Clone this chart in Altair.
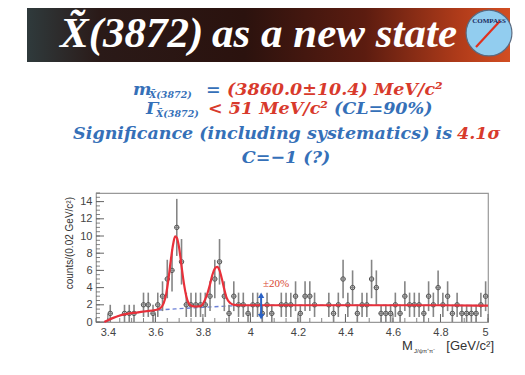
import altair as alt
import pandas as pd

# ---------------- data ----------------
bin_start = 3.37
bin_width = 0.02
counts = [0, 0, 1, 0, 0, 1, 1, 1, 0, 2,
          2, 1, 2, 3, 5, 6, 11, 7, 2, 2,
          2, 2, 2, 3, 5, 7, 3, 1, 3, 2,
          2, 1, 2, 2, 1, 2, 1, 0, 2, 2,
          2, 3, 1, 3, 3, 2, 0, 0, 2, 1,
          2, 5, 2, 4, 1, 2, 2, 5, 4, 1,
          1, 1, 2, 1, 3, 2, 2, 2, 1, 3,
          2, 4, 2, 3, 1, 2, 1, 1, 1, 1,
          2, 3]

fit_x = [3.385, 3.40, 3.42, 3.45, 3.48, 3.52, 3.56, 3.60, 3.62, 3.635, 3.645, 3.655,
         3.665, 3.675, 3.683, 3.69, 3.70, 3.71, 3.72, 3.73, 3.74, 3.755, 3.77, 3.79,
         3.80, 3.815, 3.83, 3.84, 3.85, 3.86, 3.87, 3.88, 3.89, 3.90, 3.915, 3.93,
         3.96, 4.0, 4.2, 4.4, 4.6, 4.8, 5.0]
fit_y = [0.0, 0.2, 0.45, 0.75, 0.95, 1.1, 1.25, 1.4, 1.6, 2.2, 3.2, 5.0,
         7.2, 9.1, 9.95, 9.8, 8.6, 6.5, 4.5, 3.0, 2.2, 1.85, 1.8, 1.85,
         2.1, 3.0, 4.4, 5.5, 6.2, 6.4, 6.0, 5.0, 3.8, 2.8, 2.2, 2.0,
         1.95, 1.95, 1.95, 1.95, 1.95, 1.95, 1.9]

bg_x = [3.385, 3.42, 3.45, 3.50, 3.55, 3.60, 3.70, 3.80, 3.90, 4.00, 4.20, 4.60, 5.00]
bg_y = [0.0, 0.45, 0.75, 1.0, 1.2, 1.35, 1.55, 1.7, 1.85, 1.92, 1.95, 1.95, 1.9]

arrow_x = [4.045, 4.045]
arrow_y = [0.6, 3.1]

x_major = [3.4, 3.6, 3.8, 4.0, 4.2, 4.4, 4.6, 4.8, 5.0]
x_minor = [round(3.35 + 0.05 * i, 2) for i in range(34)]
y_major = [0, 2, 4, 6, 8, 10, 12, 14]
y_minor = [0.5 * i for i in range(31)]

centers = [round(bin_start + bin_width * i, 2) for i in range(len(counts))]
hist = pd.DataFrame({"m": centers, "c": counts})
hist = hist[hist.c > 0]
fit = pd.DataFrame({"m": fit_x, "v": fit_y})
bg = pd.DataFrame({"m": bg_x, "v": bg_y})
arrow = pd.DataFrame({"m": arrow_x, "v": arrow_y, "s": ["triangle-down", "triangle-up"]})
one = pd.DataFrame({"k": [0]})

W, H = 392, 129
xs = alt.Scale(domain=[3.35, 5.0], nice=False, zero=False)
ys = alt.Scale(domain=[0, 15], nice=False)

BLUE = "#3570b8"
RED = "#d83a2c"
SERIF = "DejaVu Serif"
TSERIF = "Liberation Serif"
SANS = "Liberation Sans"
FS = 17.5

x_axis = alt.Axis(values=x_major, format="~g", title=None, grid=False,
                  domain=False, ticks=False, labelFont=SANS,
                  labelFontSize=11, labelColor="#444", labelPadding=4,
                  labelOverlap=False)
y_axis = alt.Axis(values=y_major, title=None, grid=False, domain=False,
                  ticks=False, labelFont=SANS, labelFontSize=11,
                  labelColor="#444", labelPadding=4, labelOverlap=False)


def X(f):
    return alt.X(f"{f}:Q", scale=xs, axis=x_axis)


def Y(f):
    return alt.Y(f"{f}:Q", scale=ys, axis=y_axis)


def txt(s, x, y, size, color, align="left", font=SERIF, style="italic",
        weight="bold", angle=0):
    return alt.Chart(one).mark_text(
        text=s, align=align, baseline="alphabetic", font=font, fontSize=size,
        fontStyle=style, fontWeight=weight, color=color, angle=angle
    ).encode(x=alt.value(x), y=alt.value(y))


# ---------------- plot layers ----------------
errs = alt.Chart(hist).transform_calculate(
    lo="datum.c - sqrt(datum.c)", hi="datum.c + sqrt(datum.c)"
).mark_rule(color="#858585", strokeWidth=1.6).encode(
    x=X("m"), y=Y("lo"), y2="hi:Q")

herrs = alt.Chart(hist).transform_calculate(
    a="datum.m - 0.01", b="datum.m + 0.01"
).mark_rule(color="#858585", strokeWidth=1.2).encode(
    x=X("a"), x2="b:Q", y=Y("c"))

pts = alt.Chart(hist).mark_point(shape="circle", size=20, filled=False,
                                 color="#555", strokeWidth=1, opacity=1).encode(
    x=X("m"), y=Y("c"))

bgline = alt.Chart(bg).mark_line(color="#6b7fd6", strokeWidth=1.4,
                                 strokeDash=[4, 3], interpolate="monotone").encode(
    x=X("m"), y=Y("v"))

fitline = alt.Chart(fit).mark_line(color="#e8303a", strokeWidth=2.2,
                                   interpolate="monotone").encode(
    x=X("m"), y=Y("v"))

arr_line = alt.Chart(arrow).mark_line(color="#2a62c6", strokeWidth=2).encode(
    x=X("m"), y=Y("v"))
arr_heads = alt.Chart(arrow).mark_point(filled=True, size=40, color="#2a62c6",
                                        opacity=1).encode(
    x=X("m"), y=Y("v"), shape=alt.Shape("s:N", scale=None))

pct = alt.Chart(pd.DataFrame({"m": [4.108], "v": [4.1]})).mark_text(
    text="±20%", font=TSERIF, fontSize=11, color="#d8452f", baseline="alphabetic"
).encode(x=X("m"), y=Y("v"))

ymaj = alt.Chart(pd.DataFrame({"v": y_major})).mark_rule(color="#666", strokeWidth=1).encode(
    y=Y("v"), x=alt.value(0), x2=alt.value(8))
ymin = alt.Chart(pd.DataFrame({"v": y_minor})).mark_rule(color="#666", strokeWidth=0.8).encode(
    y=Y("v"), x=alt.value(0), x2=alt.value(4))
xmaj = alt.Chart(pd.DataFrame({"m": x_major})).mark_rule(color="#666", strokeWidth=1).encode(
    x=X("m"), y=alt.value(H), y2=alt.value(H - 8))
xmin = alt.Chart(pd.DataFrame({"m": x_minor})).mark_rule(color="#666", strokeWidth=0.8).encode(
    x=X("m"), y=alt.value(H), y2=alt.value(H - 4))

# ---------------- slide decoration / text ----------------
banner = alt.Chart(one).mark_rect(
    color=alt.Gradient(gradient="linear", x1=0, x2=1, y1=0, y2=0, stops=[
        alt.GradientStop(offset=0, color="#2f3a3c"),
        alt.GradientStop(offset=0.15, color="#2a1a18"),
        alt.GradientStop(offset=0.45, color="#2b120e"),
        alt.GradientStop(offset=0.7, color="#5c1c10"),
        alt.GradientStop(offset=0.9, color="#b23c1a"),
        alt.GradientStop(offset=1, color="#d24e22")])
).encode(x=alt.value(-69), x2=alt.value(414), y=alt.value(-185), y2=alt.value(-131))

title1 = txt("X\u0303(3872)", -36, -146, 43, "white", font=TSERIF)
title2 = txt("as a new state", 361, -146, 43, "white", align="right", font=TSERIF)

logo = alt.Chart(one).mark_point(shape="circle", filled=True, size=2100,
                                 fill="#92cdef", stroke="#5a6a80", strokeWidth=1.2,
                                 opacity=1).encode(x=alt.value(393), y=alt.value(-160))
needle = alt.Chart(one).mark_rule(color="#e0301e", strokeWidth=2.2).encode(
    x=alt.value(404), y=alt.value(-172), x2=alt.value(380), y2=alt.value(-146))
logo_t = txt("COMPASS", 393, -170, 7, "#1a2a60", align="center", font=TSERIF,
             style="normal")

l1a = txt("m", 37, -98, FS, BLUE)
l1b = txt("X\u0303(3872)", 53, -95, 9.5, BLUE)
l1c = txt("=", 110, -98, FS, BLUE)
l1d = txt("(3860.0±10.4) MeV/c²", 131, -98, FS, RED)

l2a = txt("Γ", 50, -79, FS, BLUE)
l2b = txt("X\u0303(3872)", 60, -76, 9.5, BLUE)
l2c = txt("< 51 MeV/c²", 232, -79, FS, RED, align="right")
l2d = txt("(CL=90%)", 238, -79, FS, BLUE)

l3a = txt("Significance (including systematics) is", 356, -54, FS, BLUE, align="right")
l3b = txt("4.1σ", 361, -54, FS, RED)

l4 = txt("C=−1 (?)", 190, -30, FS, BLUE, align="center")

ytitle = txt("counts/(0.02 GeV/c²)", -23, 4, 10, "#333", align="right",
             font=SANS, style="normal", weight="normal", angle=270)
xt1 = txt("M", 306, 157, 13, "#333", font=SANS, style="normal", weight="normal")
xt2 = txt("J/ψπ⁺π⁻", 318, 160, 6, "#333", font=SANS, style="normal", weight="normal")
xt3 = txt("[GeV/c²]", 398, 157, 13, "#333", align="right", font=SANS,
          style="normal", weight="normal")

chart = alt.layer(
    banner, title1, title2, logo, needle, logo_t,
    l1a, l1b, l1c, l1d, l2a, l2b, l2c, l2d, l3a, l3b, l4,
    ymin, ymaj, xmin, xmaj,
    bgline, errs, herrs, pts, fitline, arr_line, arr_heads, pct,
    ytitle, xt1, xt2, xt3
).properties(
    width=W, height=H,
    autosize=alt.AutoSizeParams(type="none"),
    padding={"left": 88, "top": 185, "right": 28, "bottom": 44},
    background="white"
).configure_view(stroke="#999", strokeWidth=1.2)

chart.save("out.html", embed_options={"renderer": "svg", "actions": False})
